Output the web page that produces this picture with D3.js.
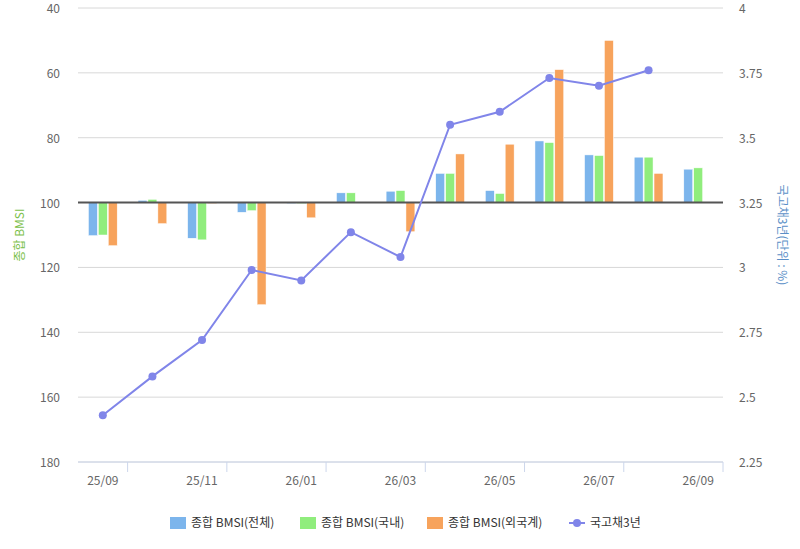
<!DOCTYPE html><html><head><meta charset="utf-8"><script src="https://cdn.jsdelivr.net/npm/d3@7"></script>
<style>body{margin:0;background:#fff}text{font-family:"Noto Sans CJK KR","Noto Sans",sans-serif}</style></head><body><svg id="c" width="800" height="549"></svg>
<script>
const categories=["25/09","25/10","25/11","25/12","26/01","26/02","26/03","26/04","26/05","26/06","26/07","26/08","26/09"];
const totalVals=[110.2,99.3,111,103,100.3,97,96.5,91,96.3,81,85.3,86,89.7];
const domesticVals=[110,99,111.5,102.5,100.3,97,96.3,91,97.2,81.5,85.5,86,89.3];
const foreignVals=[113.3,106.5,100.3,131.5,104.7,100,109,85,82,59,50,91,null];
const bondVals=[2.43,2.58,2.72,2.99,2.95,3.136,3.04,3.55,3.60,3.73,3.70,3.76,null];
const leftTicks=[40,60,80,100,120,140,160,180];
const rightTicks=[2.25,2.5,2.75,3,3.25,3.5,3.75,4];
const seriesNames=["종합 BMSI(전체)","종합 BMSI(국내)","종합 BMSI(외국계)","국고채3년"];
const colors=["#7cb5ec","#90ed7d","#f7a35c","#8085e9"];
const svg=d3.select("#c");
const L=78,R=723,T=8,B=462;
const x=d3.scaleBand().domain(categories).range([L,R]);
const yL=d3.scaleLinear().domain([40,180]).range([T,B]);
const yR=d3.scaleLinear().domain([2.25,4]).range([B,T]);
svg.append("g").selectAll("line").data(leftTicks).join("line").attr("x1",L).attr("x2",R)
 .attr("y1",d=>yL(d)).attr("y2",d=>yL(d)).attr("stroke","#d8d8d8");
svg.append("g").selectAll("text").data(leftTicks).join("text").attr("x",L-18).attr("y",d=>yL(d)+5)
 .attr("text-anchor","end").attr("font-size",12).attr("fill","#666").text(d=>d);
svg.append("g").selectAll("text").data(rightTicks).join("text").attr("x",R+16).attr("y",d=>yR(d)+5)
 .attr("text-anchor","start").attr("font-size",12).attr("fill","#666").text(d=>d);
svg.append("text").attr("transform",`translate(24,${(T+B)/2}) rotate(-90)`).attr("text-anchor","middle")
 .attr("font-size",12).attr("fill","#7cbf4a").text("종합 BMSI");
svg.append("text").attr("transform",`translate(778,${(T+B)/2}) rotate(90)`).attr("text-anchor","middle")
 .attr("font-size",12).attr("fill","#5b8fc7").text("국고채3년(단위 : %)");
svg.append("line").attr("x1",L).attr("x2",R).attr("y1",B).attr("y2",B).attr("stroke","#ccd6eb");
const tickPos=d3.range(0,categories.length,2);
svg.append("g").selectAll("line").data(tickPos).join("line")
 .attr("x1",i=>x(categories[i])+x.bandwidth()).attr("x2",i=>x(categories[i])+x.bandwidth())
 .attr("y1",B).attr("y2",B+10).attr("stroke","#ccd6eb");
svg.append("g").selectAll("text").data(tickPos).join("text").attr("x",i=>x(categories[i])+x.bandwidth()/2)
 .attr("y",B+23).attr("text-anchor","middle").attr("font-size",12).attr("fill","#666").text(i=>categories[i]);
const sub=d3.scaleBand().domain([0,1,2]).range([0,x.bandwidth()]).paddingInner(0.1).paddingOuter(1.05);
[totalVals,domesticVals,foreignVals].forEach((arr,s)=>{
 svg.append("g").selectAll("rect").data(arr.map((v,i)=>({v,i})).filter(d=>d.v!=null)).join("rect")
  .attr("x",d=>x(categories[d.i])+sub(s)).attr("width",sub.bandwidth())
  .attr("y",d=>Math.min(yL(d.v),yL(100))).attr("height",d=>Math.abs(yL(d.v)-yL(100)))
  .attr("fill",colors[s]).attr("stroke","#fff").attr("stroke-width",0.5);
});
svg.append("line").attr("x1",L).attr("x2",R).attr("y1",yL(100)).attr("y2",yL(100)).attr("stroke","#555").attr("stroke-width",2);
const pts=bondVals.map((v,i)=>({v,i})).filter(d=>d.v!=null);
svg.append("path").datum(pts).attr("fill","none").attr("stroke",colors[3]).attr("stroke-width",2)
 .attr("d",d3.line().x(d=>x(categories[d.i])+x.bandwidth()/2).y(d=>yR(d.v)));
svg.append("g").selectAll("circle").data(pts).join("circle").attr("cx",d=>x(categories[d.i])+x.bandwidth()/2)
 .attr("cy",d=>yR(d.v)).attr("r",4).attr("fill",colors[3]);
const lx=[170,300,427,569];
seriesNames.forEach((n,i)=>{
 const g=svg.append("g").attr("transform",`translate(${lx[i]},523)`);
 if(i<3) g.append("rect").attr("x",0).attr("y",-6).attr("width",16).attr("height",12).attr("fill",colors[i]);
 else {g.append("line").attr("x1",0).attr("x2",16).attr("y1",0).attr("y2",0).attr("stroke",colors[3]).attr("stroke-width",2);
  g.append("circle").attr("cx",8).attr("cy",0).attr("r",4).attr("fill",colors[3]);}
 g.append("text").attr("x",21).attr("y",4).attr("font-size",12).attr("fill","#333").text(n);
});
</script></body></html>
